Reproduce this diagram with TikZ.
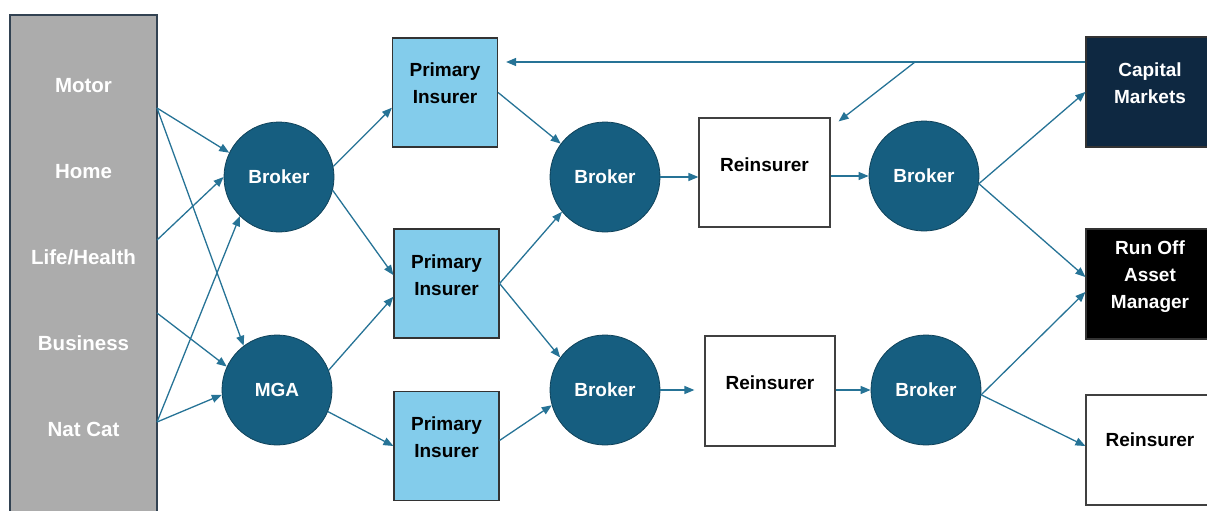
\documentclass[tikz,border=0pt]{standalone}
\usepackage{fontspec}
\setmainfont{Liberation Sans}
\usetikzlibrary{arrows.meta}
\definecolor{stone}{RGB}{172,172,172}
\definecolor{slate}{RGB}{50,66,82}
\definecolor{hubblue}{RGB}{22,94,128}
\definecolor{flowblue}{RGB}{38,115,150}
\definecolor{sky}{RGB}{131,204,235}
\definecolor{navy}{RGB}{14,40,65}
\begin{document}
\begin{tikzpicture}[x=1pt,y=-1pt,
	font=\bfseries\fontsize{19}{27}\selectfont,
	flow/.style={draw=flowblue, line width=1.3pt, -{Triangle[length=10pt,width=8pt]}},
	hub/.style={circle, fill=hubblue, draw=hubblue!70!black, line width=0.8pt, minimum size=110pt, inner sep=0pt, text=white},
	insurer/.style={draw=black!80, fill=sky, line width=1.2pt, minimum width=105pt, minimum height=109pt},
	reins/.style={draw=black!75, fill=white, line width=1.2pt, minimum width=130pt, minimum height=110pt},
	outlet/.style={draw=black!80, line width=1.2pt, minimum width=128pt, minimum height=110pt},
	caption/.style={align=center}]
	\useasboundingbox (0,0) rectangle (1207,511);
	\clip (0,0) rectangle (1207,511);

	% lines of business
	\node[draw=slate, fill=stone, line width=1.5pt, minimum width=147pt, minimum height=506pt] (lines) at (83.5,268) {};
	\foreach \name [count=\i] in {Motor,Home,Life/Health,Business,Nat Cat}
		\node[text=white, font=\bfseries\fontsize{20.5}{27}\selectfont] (lob\i) at (83.5,0.25+85.75*\i) {\name};
	\coordinate (motorout) at (157,108);
	\coordinate (lifeout) at (157,240);
	\coordinate (busout) at (157,313);
	\coordinate (catout) at (157,422);

	% brokers and MGA
	\node[hub] (b1) at (279,177) {Broker};
	\node[hub] (mga) at (277,390) {MGA};
	\node[hub] (b2) at (605,177) {Broker};
	\node[hub] (b3) at (605,390) {Broker};
	\node[hub] (b4) at (924,176) {Broker};
	\node[hub] (b5) at (926,390) {Broker};

	% insurers
	\node[insurer] (pi1) at (445,92.5) {};
	\node[insurer] (pi2) at (446.5,283.5) {};
	\node[insurer] (pi3) at (446.5,446) {};
	\node[caption] (pi1t) at ([yshift=9pt]pi1) {Primary\\Insurer};
	\node[caption] (pi2t) at ([yshift=8.5pt]pi2) {Primary\\Insurer};
	\node[caption] (pi3t) at ([yshift=9pt]pi3) {Primary\\Insurer};

	% reinsurers
	\node[reins, minimum width=131pt, minimum height=109pt] (re1) at (764.5,172.5) {};
	\node[reins] (re2) at (770,391) {};
	\node[caption] (re1t) at ([yshift=7.5pt]re1) {Reinsurer};
	\node[caption] (re2t) at ([yshift=8pt]re2) {Reinsurer};

	% end of the chain
	\node[outlet, fill=navy] (cm) at (1150,92) {};
	\node[outlet, fill=black] (ro) at (1150,284) {};
	\node[reins, minimum width=128pt] (re3) at (1150,450) {};
	\node[caption, text=white] (cmt) at ([yshift=8.5pt]cm) {Capital\\Markets};
	\node[caption, text=white] (rot) at ([yshift=7.5pt]ro) {Run Off\\Asset\\Manager};
	\node[caption] (re3t) at ([yshift=10pt]re3) {Reinsurer};

	% business flowing in
	\draw[flow] (motorout) -- (b1.154);
	\draw[flow] (motorout) -- (mga.127);
	\draw[flow] (lifeout) -- (b1.180);
	\draw[flow] (busout) -- (mga.155);
	\draw[flow] (catout) -- (b1.225);
	\draw[flow] (catout) -- (mga.185);

	% placement with insurers
	\draw[flow] (b1.11) -- (pi1.196);
	\draw[flow] (b1.346) -- (pi2.171);
	\draw[flow] (mga.21) -- (pi2.194);
	\draw[flow] (mga.337) -- (pi3.west);

	% ceded to reinsurers
	\draw[flow] (pi1.east) -- (b2.143);
	\draw[flow] (pi2.east) -- (b2.219);
	\draw[flow] (pi2.east) -- (b3.144);
	\draw[flow] (pi3.6) -- (b3.196);
	\draw[flow] (b2.east) -- (b2.east -| re1.west);
	\draw[flow, shorten >=10pt] (b3.east) -- (b3.east -| re2.west);
	\draw[flow] (re1.east |- b4) -- (b4.west);
	\draw[flow] (re2.east |- b5) -- (b5.west);

	% retro and run off
	\draw[flow] (b4.352) -- (cm.west);
	\draw[flow] (b4.352) -- ([yshift=7pt]ro.west);
	\draw[flow] (b5.355) -- ([yshift=-8pt]ro.west);
	\draw[flow] (b5.355) -- ([yshift=4pt]re3.west);

	% capital coming back
	\coordinate (split) at (915,62);
	\draw[flow] ([yshift=30pt]cm.west) -- (split) -- ([xshift=8pt,yshift=30.5pt]pi1.east);
	\draw[flow] (split) -- ([xshift=8pt,yshift=-4pt]re1.north east);
\end{tikzpicture}
\end{document}
